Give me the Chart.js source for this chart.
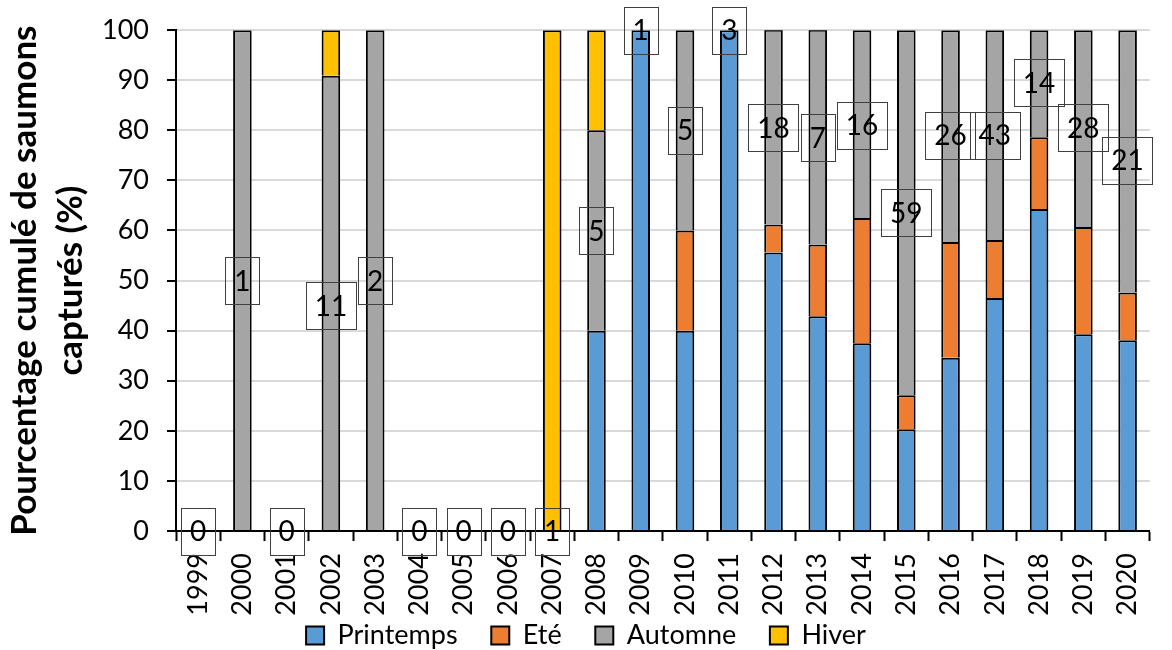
<!DOCTYPE html>
<html>
<head>
<meta charset="utf-8">
<script src="https://cdn.jsdelivr.net/npm/chart.js@4"></script>
<style>
  html, body { margin: 0; padding: 0; background: #fff; }
  #wrap { width: 1172px; height: 650px; }
</style>
</head>
<body>
<div id="wrap"><canvas id="chart" width="1172" height="650"></canvas></div>
<script>
// Years and % of salmon caught per season (stacked to 100)
const years = ["1999","2000","2001","2002","2003","2004","2005","2006","2007","2008","2009",
  "2010","2011","2012","2013","2014","2015","2016","2017","2018","2019","2020"];
const printemps = [0, 0, 0, 0, 0, 0, 0, 0, 0, 40, 100, 40, 100, 55.6, 42.9, 37.5, 20.3, 34.6, 46.5, 64.3, 39.3, 38.1];
const ete       = [0, 0, 0, 0, 0, 0, 0, 0, 0, 0, 0, 20, 0, 5.6, 14.3, 25, 6.8, 23.1, 11.6, 14.3, 21.4, 9.5];
const automne   = [0, 100, 0, 90.9, 100, 0, 0, 0, 0, 40, 0, 40, 0, 38.9, 42.9, 37.5, 72.9, 42.3, 41.9, 21.4, 39.3, 52.4];
const hiver     = [0, 0, 0, 9.1, 0, 0, 0, 0, 100, 20, 0, 0, 0, 0, 0, 0, 0, 0, 0, 0, 0, 0];

// number of fish per year, and the % level where each count label sits
const counts = [0, 1, 0, 11, 2, 0, 0, 0, 1, 5, 1, 5, 3, 18, 7, 16, 59, 26, 43, 14, 28, 21];
const countY = [0, 50, 0, 45, 50, 0, 0, 0, 0, 60, 100, 80, 100, 80.5, 78.5, 81, 63.5, 79, 79, 89.5, 80.5, 74];

const yTicks = [0, 10, 20, 30, 40, 50, 60, 70, 80, 90, 100];

const FONT = "Lato";
const PAD_BOTTOM = -9;

// boxed count labels like the Excel data labels
const countBoxes = {
  id: "countBoxes",
  afterDatasetsDraw(chart) {
    const { ctx, scales: { x, y } } = chart;
    ctx.save();
    ctx.font = "28px " + FONT;
    ctx.textAlign = "center";
    ctx.textBaseline = "middle";
    counts.forEach((n, i) => {
      const cx = x.getPixelForValue(i);
      const cy = y.getPixelForValue(countY[i]);
      const txt = String(n);
      const w = ctx.measureText(txt).width + 18;
      const h = 47;
      ctx.strokeStyle = "#404040";
      ctx.lineWidth = 1;
      ctx.strokeRect(Math.round(cx - w / 2) + 0.5, Math.round(cy - h / 2) + 0.5, Math.round(w), h);
      ctx.fillStyle = "#000";
      ctx.fillText(txt, cx, cy + 1);
    });
    ctx.restore();
  }
};

function ds(label, data, color) {
  return {
    label: label,
    data: data.map(v => v || null),
    backgroundColor: color,
    borderColor: "#000",
    borderWidth: 2,
    borderSkipped: "start",
    categoryPercentage: 1,
    barPercentage: 0.42
  };
}

const ctx = document.getElementById("chart").getContext("2d");
new Chart(ctx, {
  type: "bar",
  data: {
    labels: years,
    datasets: [
      ds("Printemps", printemps, "#5B9BD5"),
      ds("Eté", ete, "#ED7D31"),
      ds("Automne", automne, "#A5A5A5"),
      ds("Hiver", hiver, "#FFC000")
    ]
  },
  plugins: [countBoxes],
  options: {
    responsive: false,
    animation: false,
    layout: { padding: { top: 25, right: 0, left: 0, bottom: PAD_BOTTOM } },
    plugins: {
      legend: {
        position: "bottom",
        labels: {
          font: { family: FONT, size: 27 },
          color: "#000",
          boxWidth: 18,
          boxHeight: 18,
          padding: 6,
          // small padding keeps the legend band thin; spaces give the gap between items
          generateLabels: chart => {
            const items = Chart.defaults.plugins.legend.labels.generateLabels(chart);
            items.forEach((it, i) => { if (i < items.length - 1) it.text += "    "; });
            return items;
          }
        }
      },
      tooltip: { enabled: false }
    },
    scales: {
      x: {
        stacked: true,
        offset: true,
        afterFit: s => { s.height = 650 - PAD_BOTTOM - s.chart.legend.height - 531; },
        grid: {
          display: true,
          drawOnChartArea: false,
          drawTicks: true,
          tickLength: 10,
          tickColor: "#000",
          tickWidth: 2,
          offset: true
        },
        border: { color: "#000", width: 2 },
        ticks: {
          font: { family: FONT, size: 27 },
          color: "#000",
          maxRotation: 90,
          minRotation: 90,
          padding: 12,
          autoSkip: false
        }
      },
      y: {
        stacked: true,
        min: 0,
        max: 100,
        afterFit: s => { s.width = 176; },
        afterBuildTicks: s => { s.ticks = yTicks.map(v => ({ value: v })); },
        grid: {
          color: "#D9D9D9",
          lineWidth: 2,
          tickLength: 9,
          tickColor: "#000",
          tickWidth: 2
        },
        border: { color: "#000", width: 2 },
        ticks: {
          font: { family: FONT, size: 27, lineHeight: 0.9 },
          color: "#000",
          padding: 18
        },
        title: {
          display: true,
          text: ["Pourcentage cumulé de saumons", "capturés (%)"],
          font: { family: FONT, size: 35, weight: "bold", lineHeight: 1.3 },
          color: "#000",
          padding: { top: 2, bottom: 0 }
        }
      }
    }
  }
});
</script>
</body>
</html>
